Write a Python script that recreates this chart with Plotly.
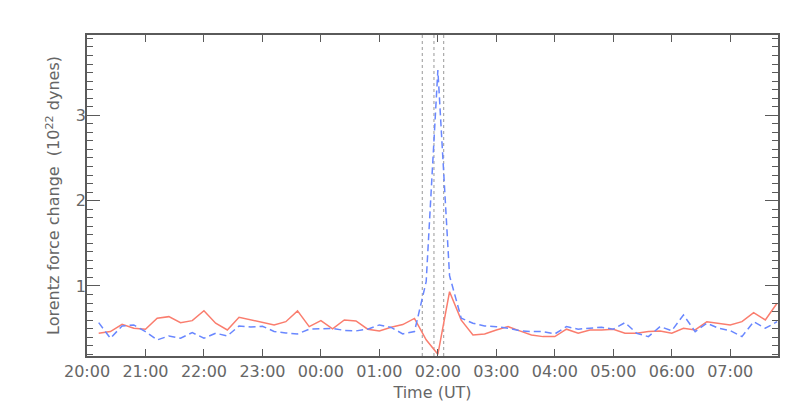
import plotly.graph_objects as go

times = [
    "2011-02-14 20:12", "2011-02-14 20:24", "2011-02-14 20:36", "2011-02-14 20:48", "2011-02-14 21:00",
    "2011-02-14 21:12", "2011-02-14 21:24", "2011-02-14 21:36", "2011-02-14 21:48", "2011-02-14 22:00",
    "2011-02-14 22:12", "2011-02-14 22:24", "2011-02-14 22:36", "2011-02-14 22:48", "2011-02-14 23:00",
    "2011-02-14 23:12", "2011-02-14 23:24", "2011-02-14 23:36", "2011-02-14 23:48", "2011-02-15 00:00",
    "2011-02-15 00:12", "2011-02-15 00:24", "2011-02-15 00:36", "2011-02-15 00:48", "2011-02-15 01:00",
    "2011-02-15 01:12", "2011-02-15 01:24", "2011-02-15 01:36", "2011-02-15 01:48", "2011-02-15 02:00",
    "2011-02-15 02:12", "2011-02-15 02:24", "2011-02-15 02:36", "2011-02-15 02:48", "2011-02-15 03:00",
    "2011-02-15 03:12", "2011-02-15 03:24", "2011-02-15 03:36", "2011-02-15 03:48", "2011-02-15 04:00",
    "2011-02-15 04:12", "2011-02-15 04:24", "2011-02-15 04:36", "2011-02-15 04:48", "2011-02-15 05:00",
    "2011-02-15 05:12", "2011-02-15 05:24", "2011-02-15 05:36", "2011-02-15 05:48", "2011-02-15 06:00",
    "2011-02-15 06:12", "2011-02-15 06:24", "2011-02-15 06:36", "2011-02-15 06:48", "2011-02-15 07:00",
    "2011-02-15 07:12", "2011-02-15 07:24", "2011-02-15 07:36", "2011-02-15 07:48",
]

red_values = [
    0.447, 0.466, 0.552, 0.506, 0.494, 0.622, 0.641, 0.571, 0.594, 0.711,
    0.564, 0.485, 0.634, 0.602, 0.575, 0.544, 0.582, 0.708, 0.524, 0.594,
    0.497, 0.602, 0.591, 0.494, 0.474, 0.517, 0.548, 0.620, 0.370, 0.200,
    0.933, 0.600, 0.427, 0.439, 0.485, 0.524, 0.474, 0.427, 0.407, 0.407,
    0.494, 0.447, 0.485, 0.485, 0.494, 0.447, 0.447, 0.466, 0.474, 0.447,
    0.505, 0.485, 0.582, 0.564, 0.544, 0.582, 0.688, 0.602, 0.798,
]

blue_values = [
    0.571, 0.388, 0.532, 0.544, 0.466, 0.368, 0.415, 0.388, 0.454, 0.388,
    0.447, 0.415, 0.532, 0.520, 0.529, 0.468, 0.450, 0.439, 0.494, 0.497,
    0.503, 0.480, 0.474, 0.494, 0.544, 0.515, 0.439, 0.466, 1.050, 3.530,
    1.120, 0.622, 0.564, 0.532, 0.524, 0.505, 0.477, 0.466, 0.466, 0.439,
    0.524, 0.494, 0.505, 0.517, 0.494, 0.571, 0.447, 0.407, 0.524, 0.477,
    0.661, 0.466, 0.564, 0.505, 0.477, 0.407, 0.582, 0.505, 0.582,
]

flare_times = ["2011-02-15 01:44", "2011-02-15 01:56", "2011-02-15 02:06"]

x_range = ["2011-02-14 20:00", "2011-02-15 07:49"]
y_range = [0.18, 3.94]
y_tickvals = [1, 2, 3]
y_ticktext = ["1", "2", "3"]

axis_color = "#5a5a5a"
text_color = "#666666"
font_family = "DejaVu Sans"

fig = go.Figure()

fig.add_trace(go.Scatter(
    x=times, y=red_values, mode="lines",
    line=dict(color="rgb(250,125,110)", width=1.5),
    showlegend=False,
))
fig.add_trace(go.Scatter(
    x=times, y=blue_values, mode="lines",
    line=dict(color="rgb(105,135,255)", width=1.5, dash="7px,4px"),
    showlegend=False,
))

for t in flare_times:
    fig.add_shape(
        type="line", xref="x", yref="paper",
        x0=t, x1=t, y0=0, y1=1,
        line=dict(color="#999999", width=1, dash="dot"),
        layer="below",
    )

# page body adds an 8px offset; margins compensate for it
fig.update_layout(
    width=803, height=416,
    margin=dict(l=79, r=33, t=27, b=68),
    paper_bgcolor="white", plot_bgcolor="white",
    font=dict(family=font_family, size=16, color=text_color),
    showlegend=False,
)

fig.update_xaxes(
    type="date", range=x_range,
    dtick=3600000, tickformat="%H:%M",
    ticks="inside", ticklen=7, tickwidth=1.2, tickcolor=axis_color,
    showline=True, linecolor=axis_color, linewidth=1.5, mirror="ticks",
    showgrid=False, zeroline=False,
    tickfont=dict(family=font_family, size=16, color=text_color),
    title=dict(text="Time (UT)", font=dict(family=font_family, size=16, color=text_color), standoff=7),
)

fig.update_yaxes(
    range=y_range,
    tickmode="array", tickvals=y_tickvals, ticktext=y_ticktext,
    ticks="inside", ticklen=13, tickwidth=1.2, tickcolor=axis_color,
    ticklabelstandoff=-4,
    minor=dict(dtick=0.1, tick0=0, ticks="inside", ticklen=6, tickwidth=1, tickcolor=axis_color, showgrid=False),
    showline=True, linecolor=axis_color, linewidth=1.5, mirror="ticks",
    showgrid=False, zeroline=False,
    tickfont=dict(family=font_family, size=16, color=text_color),
    title=dict(text="Lorentz force change  (10<sup>22</sup> dynes)",
               font=dict(family=font_family, size=16, color=text_color), standoff=12),
)

fig.write_html("out.html")
